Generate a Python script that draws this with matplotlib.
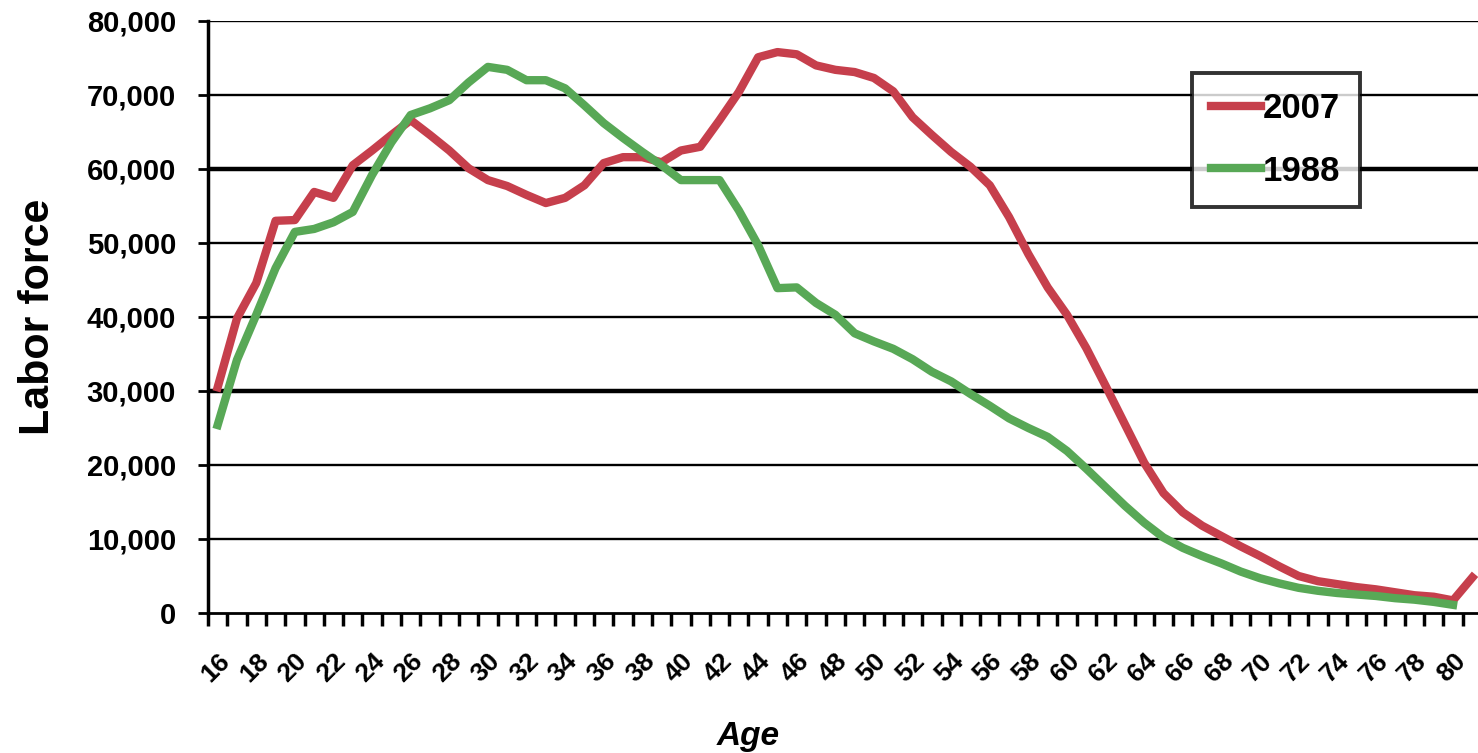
import matplotlib
matplotlib.use("Agg")
import matplotlib.pyplot as plt
import numpy as np

plt.rcParams['font.family'] = ['Liberation Sans', 'DejaVu Sans']
plt.rcParams['font.weight'] = 'bold'

# ages 16..81, one category per year
ages = list(range(16, 82))

# labor force by single year of age
lf_2007 = [30500, 39800, 44600, 53000, 53100, 56900, 56100, 60500, 62500, 64600,
           66600, 64600, 62500, 60100, 58500, 57700, 56500, 55400, 56100, 57800,
           60800, 61600, 61600, 60900, 62500, 63000, 66600, 70400, 75100, 75800,
           75500, 74000, 73400, 73100, 72300, 70500, 67000, 64600, 62300, 60300,
           57800, 53500, 48500, 44000, 40300, 35800, 30700, 25500, 20300, 16200,
           13600, 11800, 10400, 9000, 7700, 6300, 5000, 4300, 3900, 3500,
           3200, 2800, 2400, 2200, 1700, 4800]

lf_1988 = [25400, 34200, 40300, 46600, 51500, 51900, 52800, 54200, 59200, 63600,
           67300, 68200, 69300, 71700, 73800, 73400, 72000, 72000, 70900, 68600,
           66200, 64200, 62300, 60500, 58500, 58500, 58500, 54400, 49700, 43900,
           44000, 41900, 40300, 37800, 36700, 35700, 34300, 32600, 31300, 29600,
           28000, 26300, 25000, 23800, 21900, 19500, 17000, 14500, 12200, 10200,
           8800, 7700, 6700, 5600, 4700, 4000, 3400, 3000, 2700, 2500,
           2300, 2000, 1800, 1500, 1100, np.nan]

y_ticks = [0, 10000, 20000, 30000, 40000, 50000, 60000, 70000, 80000]

W, H = 1478, 753
fig = plt.figure(figsize=(W / 100, H / 100), dpi=100)
ax = fig.add_axes([208 / W, (H - 613) / H, (1482 - 208) / W, (613 - 21) / H])

x = np.arange(len(ages))

# horizontal gridlines (two of them look heavier in the scan)
for v in y_ticks[1:]:
    lw = 3.2 if v in (30000, 60000) else 1.7
    ax.axhline(v, color='black', lw=lw, zorder=1)

ax.plot(x, lf_2007, color='#c63f4c', lw=6, label='2007', zorder=3,
        solid_joinstyle='round')
ax.plot(x, lf_1988, color='#58a856', lw=6, label='1988', zorder=3,
        solid_joinstyle='round')

ax.set_xlim(-0.5, len(ages) - 0.5)
ax.set_ylim(0, 80000)

for s in ['top', 'right']:
    ax.spines[s].set_visible(False)
ax.spines['left'].set_linewidth(2.5)
ax.spines['bottom'].set_linewidth(2.0)

ax.set_yticks(y_ticks)
ax.set_yticklabels(['{:,}'.format(v) for v in y_ticks], fontsize=21, fontweight='bold')
ax.tick_params(axis='y', length=7, width=2, pad=16)

# tick marks between categories, labels on every second category
ax.set_xticks(x[::2])
ax.set_xticklabels([str(a) for a in ages[::2]], rotation=45, ha='right',
                   rotation_mode='anchor', fontsize=19, fontweight='bold')
ax.set_xticks(np.arange(len(ages) + 1) - 0.5, minor=True)
ax.tick_params(axis='x', which='major', length=0, pad=26)
ax.tick_params(axis='x', which='minor', length=9, width=2.5)

ax.set_ylabel('Labor force', fontsize=31, fontweight='bold')
ax.yaxis.set_label_coords((58 - 208) / (1482 - 208), (613 - 317) / (613 - 21))
ax.set_xlabel('Age', fontsize=24, fontweight='bold', style='italic')
ax.xaxis.set_label_coords((748 - 208) / (1482 - 208), -(737 - 613) / (613 - 21))
ax.xaxis.label.set_va('center')

leg = ax.legend(loc='upper left', bbox_to_anchor=((1192 - 208) / (1482 - 208), (613 - 73) / (613 - 21)),
                frameon=True, fancybox=False, fontsize=25, handlelength=1.45,
                handletextpad=0.05, labelspacing=0.85, borderpad=0.55,
                borderaxespad=0)
leg.get_frame().set_edgecolor('black')
leg.get_frame().set_linewidth(2.8)
for t in leg.get_texts():
    t.set_fontweight('bold')

fig.savefig('out.png', dpi=100)
